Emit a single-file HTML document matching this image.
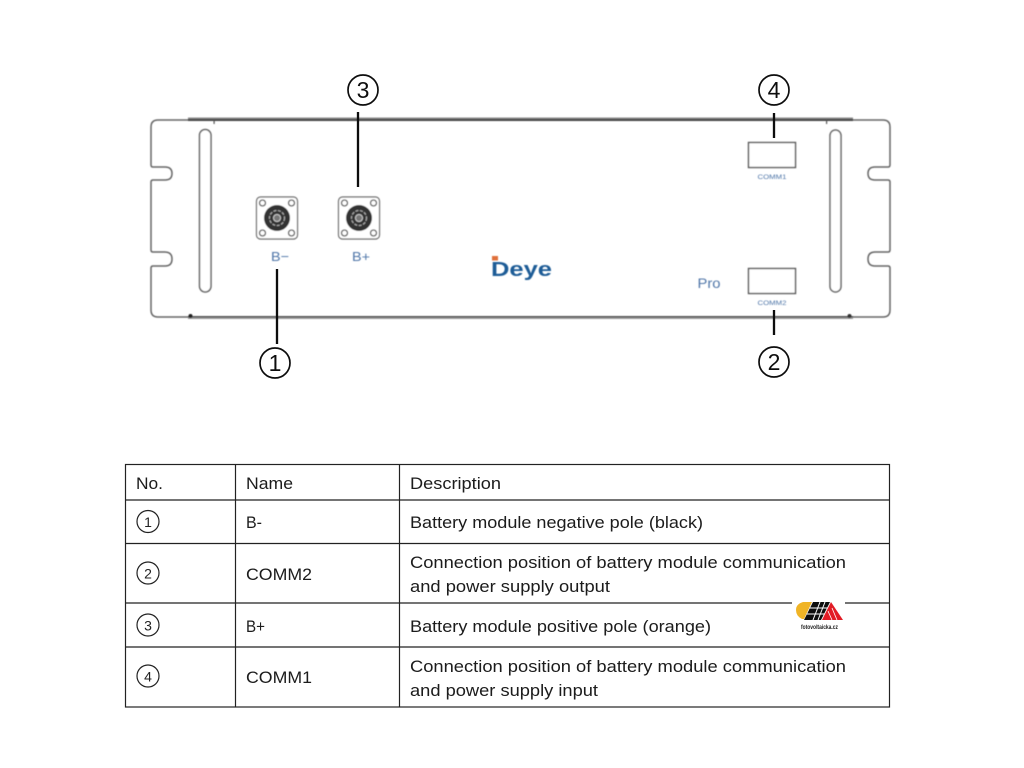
<!DOCTYPE html>
<html><head><meta charset="utf-8"><style>
html,body{margin:0;padding:0;background:#fff}
svg{display:block}
text{font-family:"Liberation Sans",sans-serif}
.t{font-size:17px;fill:#1a1a1a}
.n{font-size:23px;fill:#111;text-anchor:middle}
.s{font-size:14px;fill:#222;text-anchor:middle}
.b{fill:#4f76a8;text-anchor:middle}
</style></head><body>
<svg width="1024" height="768" viewBox="0 0 1024 768" xmlns="http://www.w3.org/2000/svg">
<defs>
<filter id="soft" x="-5%" y="-5%" width="110%" height="110%"><feGaussianBlur stdDeviation="0.45"/></filter>
<filter id="soft2" x="-5%" y="-5%" width="110%" height="110%"><feGaussianBlur stdDeviation="0.3"/></filter>
<g id="conn">
<rect x="-20.500" y="-21" width="41" height="42" rx="4" fill="#fff" stroke="#666" stroke-width="1.200"/>
<circle cx="-14.500" cy="-15" r="3" fill="#fff" stroke="#555" stroke-width="1.300"/>
<circle cx="14.500" cy="-15" r="3" fill="#fff" stroke="#555" stroke-width="1.300"/>
<circle cx="-14.500" cy="15" r="3" fill="#fff" stroke="#555" stroke-width="1.300"/>
<circle cx="14.500" cy="15" r="3" fill="#fff" stroke="#555" stroke-width="1.300"/>
<circle r="13" fill="#333"/>
<circle r="7.500" fill="none" stroke="#aaa" stroke-width="1.200" stroke-dasharray="3 1.500"/>
<circle r="3.500" fill="#777" stroke="#ccc" stroke-width="1"/>
</g>
</defs>
<rect width="1024" height="768" fill="#fff"/>
<g filter="url(#soft)">
<!-- chassis -->
<path d="M190 120H158Q151 120 151 127V165Q151 167 153 167H165Q172 167 172 173.500Q172 180 165 180H153Q151 180 151 182V250Q151 252 153 252H165Q172 252 172 259Q172 266 165 266H153Q151 266 151 268V310Q151 317 158 317H190" fill="none" stroke="#666" stroke-width="1.500"/>
<path d="M850 120H883Q890 120 890 127V165Q890 167 888 167H875Q868 167 868 173.500Q868 180 875 180H888Q890 180 890 182V250Q890 252 888 252H875Q868 252 868 259Q868 266 875 266H888Q890 266 890 268V310Q890 317 883 317H850" fill="none" stroke="#666" stroke-width="1.500"/>
<rect x="199.500" y="129.500" width="11.500" height="162.500" rx="5.700" fill="#fff" stroke="#666" stroke-width="1.500"/>
<rect x="830" y="130" width="11" height="162" rx="5.500" fill="#fff" stroke="#666" stroke-width="1.500"/>
<rect x="188" y="117.500" width="665" height="1.500" fill="#888"/>
<rect x="188" y="119" width="665" height="2" fill="#444"/>
<rect x="188" y="316" width="665" height="1.500" fill="#555"/>
<rect x="188" y="317.500" width="665" height="1.500" fill="#999"/>
<circle cx="190.500" cy="316" r="2" fill="#222"/>
<circle cx="849.500" cy="316" r="2" fill="#333"/>
<rect x="213.500" y="120" width="1.200" height="4" fill="#555"/>
<rect x="826" y="120" width="1.200" height="4" fill="#555"/>
<!-- connectors -->
<use href="#conn" x="277" y="218"/>
<use href="#conn" x="359" y="218"/>
<text class="b" x="280" y="261" font-size="13" textLength="18" lengthAdjust="spacingAndGlyphs">B−</text>
<text class="b" x="361" y="261" font-size="13" textLength="18" lengthAdjust="spacingAndGlyphs">B+</text>
<!-- comm ports -->
<rect x="748.500" y="142.500" width="47" height="25" fill="#fff" stroke="#555" stroke-width="1.400"/>
<rect x="748.500" y="268.500" width="47" height="25" fill="#fff" stroke="#555" stroke-width="1.400"/>
<text class="b" x="772" y="179" font-size="6.500" textLength="29" lengthAdjust="spacingAndGlyphs">COMM1</text>
<text class="b" x="772" y="305" font-size="6.500" textLength="29" lengthAdjust="spacingAndGlyphs">COMM2</text>
<text class="b" x="709" y="288" font-size="14" textLength="23" lengthAdjust="spacingAndGlyphs">Pro</text>
<!-- Deye logo -->
<rect x="492" y="256" width="6" height="4.500" fill="#e0703a"/>
<text x="491" y="276" font-size="20" font-weight="bold" fill="#1f5c96" textLength="61" lengthAdjust="spacingAndGlyphs">Deye</text>
</g>
<g filter="url(#soft2)">
<!-- leader lines -->
<g stroke="#111" stroke-width="2.300">
<line x1="358" y1="112" x2="358" y2="187"/>
<line x1="277" y1="269" x2="277" y2="344"/>
<line x1="774" y1="113" x2="774" y2="138"/>
<line x1="774" y1="310" x2="774" y2="335"/>
</g>
<!-- callouts -->
<g fill="#fff" stroke="#111" stroke-width="1.700">
<circle cx="363" cy="90" r="15"/>
<circle cx="275" cy="363" r="15"/>
<circle cx="774" cy="90" r="15"/>
<circle cx="774" cy="362" r="15"/>
</g>
<text class="n" x="363" y="98">3</text>
<text class="n" x="275" y="371">1</text>
<text class="n" x="774" y="98">4</text>
<text class="n" x="774" y="370">2</text>
</g>
<!-- table -->
<g filter="url(#soft2)">
<g stroke="#222" stroke-width="1.200" fill="none">
<rect x="125.500" y="464.500" width="764" height="242.500"/>
<line x1="235.500" y1="464" x2="235.500" y2="707"/>
<line x1="399.500" y1="464" x2="399.500" y2="707"/>
<line x1="125" y1="500" x2="890" y2="500"/>
<line x1="125" y1="543.500" x2="890" y2="543.500"/>
<line x1="125" y1="603" x2="890" y2="603"/>
<line x1="125" y1="647" x2="890" y2="647"/>
</g>
<text class="t" x="136" y="489" textLength="27" lengthAdjust="spacingAndGlyphs">No.</text>
<text class="t" x="246" y="489" textLength="47" lengthAdjust="spacingAndGlyphs">Name</text>
<text class="t" x="410" y="489" textLength="91" lengthAdjust="spacingAndGlyphs">Description</text>
<g fill="none" stroke="#222" stroke-width="1.200">
<circle cx="148" cy="521.500" r="11"/>
<circle cx="148" cy="573" r="11"/>
<circle cx="148" cy="625" r="11"/>
<circle cx="148" cy="676" r="11"/>
</g>
<text class="s" x="148" y="527">1</text>
<text class="s" x="148" y="578.500">2</text>
<text class="s" x="148" y="630.500">3</text>
<text class="s" x="148" y="681.500">4</text>
<text class="t" x="246" y="528" textLength="16" lengthAdjust="spacingAndGlyphs">B-</text>
<text class="t" x="246" y="580" textLength="66" lengthAdjust="spacingAndGlyphs">COMM2</text>
<text class="t" x="246" y="632" textLength="19" lengthAdjust="spacingAndGlyphs">B+</text>
<text class="t" x="246" y="683" textLength="66" lengthAdjust="spacingAndGlyphs">COMM1</text>
<text class="t" x="410" y="528" textLength="293" lengthAdjust="spacingAndGlyphs">Battery module negative pole (black)</text>
<text class="t" x="410" y="568" textLength="436" lengthAdjust="spacingAndGlyphs">Connection position of battery module communication</text>
<text class="t" x="410" y="592" textLength="200" lengthAdjust="spacingAndGlyphs">and power supply output</text>
<text class="t" x="410" y="632" textLength="301" lengthAdjust="spacingAndGlyphs">Battery module positive pole (orange)</text>
<text class="t" x="410" y="672" textLength="436" lengthAdjust="spacingAndGlyphs">Connection position of battery module communication</text>
<text class="t" x="410" y="696" textLength="188" lengthAdjust="spacingAndGlyphs">and power supply input</text>
</g>
<!-- watermark -->
<rect x="792" y="600" width="53" height="6" fill="#fff"/>
<g filter="url(#soft2)">
<path d="M812 602H803Q796 604 796 610Q796 616 802 619H804Z" fill="#f0b428"/>
<path d="M804 620L813 602H830L821 620Z" fill="#111"/>
<g stroke="#fff" stroke-width="1">
<line x1="810" y1="608" x2="828" y2="608"/>
<line x1="807" y1="614" x2="825" y2="614"/>
<line x1="813" y1="620" x2="820" y2="602"/>
<line x1="818" y1="620" x2="825" y2="602"/>
</g>
<path d="M831 602L843 620H822Z" fill="#e21f26"/>
<path d="M828 611L832 620M832 608L837 620" stroke="#fff" stroke-width="0.800" fill="none"/>
<text x="801" y="629" font-size="6.500" font-weight="bold" fill="#222" textLength="37" lengthAdjust="spacingAndGlyphs">fotovoltaicka.cz</text>
</g>
</svg>
</body></html>
